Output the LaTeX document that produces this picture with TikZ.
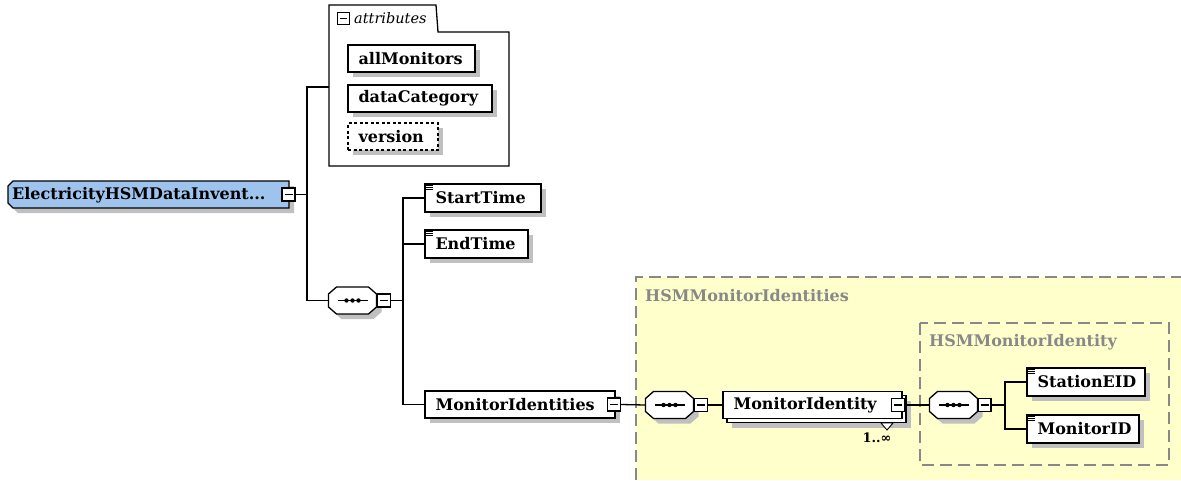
\documentclass[tikz,border=0pt]{standalone}
\usepackage{fontspec}
\setmainfont{DejaVu Serif}
\usetikzlibrary{calc}
\definecolor{rootblue}{RGB}{158,196,238}
\definecolor{shadowgray}{RGB}{192,192,192}
\definecolor{grpyellow}{RGB}{255,255,204}
\definecolor{grpgray}{RGB}{136,136,136}
\tikzset{
  box/.style={draw, fill=white, line width=1.3pt, inner sep=0pt},
  etext/.style={inner sep=0pt, anchor=west, font=\bfseries\fontsize{16}{18}\selectfont},
  grplabel/.style={inner sep=0pt, anchor=west, text=grpgray, font=\bfseries\fontsize{16}{18}\selectfont},
  minus/.style={draw, fill=white, line width=1.1pt, minimum size=13pt, inner sep=0pt,
    path picture={\draw[line width=1.1pt] ([xshift=2.5pt]path picture bounding box.west) -- ([xshift=-2.5pt]path picture bounding box.east);}},
  conn/.style={line width=1.3pt},
  grpborder/.style={draw=grpgray, line width=1.3pt, dash pattern=on 12pt off 6pt},
}
% element box: name, x1, y1, x2, y2
\newcommand\elembox[5]{%
  \fill[shadowgray] (#2+5,#3+5) rectangle (#4+5,#5+5);
  \node[box, minimum width={(#4-#2)*1pt}, minimum height={(#5-#3)*1pt}] (#1) at ({(#2+#4)/2},{(#3+#5)/2}) {};
}
% document icon inside top-left corner of a node
\newcommand\docicon[1]{%
  \foreach \d in {2.5,4.5,6.5} \draw[line width=0.8pt] ([xshift=2pt,yshift=-\d pt]#1.north west) -- ++(7,0);
}
% sequence compositor: name, cx, cy
\newcommand\seqnode[3]{%
  \fill[shadowgray, shift={(#2+5,#3+5)}] (-16,-13.5) -- (16,-13.5) -- (24,-6.5) -- (24,6.5) -- (16,13.5) -- (-16,13.5) -- (-24,6.5) -- (-24,-6.5) -- cycle;
  \node[inner sep=0pt, minimum width=48pt, minimum height=27pt] (#1) at (#2,#3) {};
  \draw[line width=1.3pt, fill=white, shift={(#2,#3)}] (-16,-13.5) -- (16,-13.5) -- (24,-6.5) -- (24,6.5) -- (16,13.5) -- (-16,13.5) -- (-24,6.5) -- (-24,-6.5) -- cycle;
  \draw[line width=1.3pt, shift={(#2,#3)}] (-15,0) -- (15,0);
  \fill[shift={(#2,#3)}] (-6,0) circle (2.2) (0,0) circle (2.2) (6,0) circle (2.2);
}
\begin{document}
\begin{tikzpicture}[x=1pt,y=-1pt]
\useasboundingbox (0,0) rectangle (1181,480);
\fill[white] (0,0) rectangle (1181,480);

% ---- yellow group region
\fill[grpyellow] (636,277) rectangle (1181,480);
\draw[grpborder] (636,480) -- (636,277) -- (1181,277);
\node[grplabel] (g1label) at (645,296) {HSMMonitorIdentities};
\draw[grpborder] (920,323) rectangle (1169,465);
\node[grplabel] (g2label) at (929,342) {HSMMonitorIdentity};

% ---- root element
\fill[shadowgray, shift={(5,5)}] (13,181) -- (289,181) -- (289,208) -- (13,208) -- (8,203) -- (8,186) -- cycle;
\node[inner sep=0pt, minimum width=281pt, minimum height=27pt] (root) at (148.5,194.5) {};
\draw[line width=1.3pt, fill=rootblue] (13,181) -- (289,181) -- (289,208) -- (13,208) -- (8,203) -- (8,186) -- cycle;
\node[etext] (roott) at (12,195) {ElectricityHSMDataInvent...};
\node[minus] (rootm) at (288.5,194.5) {};

% ---- attributes group
\draw[line width=1.3pt] (329,32) -- (329,5) -- (436,5) -- (438,32) -- (509,32) -- (509,166) -- (329,166) -- cycle;
\coordinate (attrin) at (329,87);
\node[minus, minimum size=12pt, line width=0.9pt] (attrm) at (343,18.5) {};
\node[inner sep=0pt, anchor=west, font=\itshape\fontsize{14.5}{16}\selectfont] (attrt) at (354,18) {attributes};
\elembox{am}{348}{45}{475}{72}
\node[etext] (amt) at ([xshift=11pt]am.west) {allMonitors};
\elembox{dc}{348}{85}{492}{112}
\node[etext] (dct) at ([xshift=11pt]dc.west) {dataCategory};
\fill[shadowgray] (353,128) rectangle (443,155);
\node[box, dash pattern=on 3pt off 2.5pt, minimum width=90pt, minimum height=27pt] (ver) at (393,136.5) {};
\node[etext] (vert) at ([xshift=11pt]ver.west) {version};

% ---- first sequence
\seqnode{seqA}{352.5}{300.5}
\node[minus] (seqAm) at (384,300.5) {};
\coordinate (trunkA) at (307,194.5);
\draw[conn] (rootm.east) -- (trunkA);
\draw[conn] (attrin) -| (trunkA) |- (seqA.west);

% ---- children of first sequence
\elembox{st}{425}{184}{541}{212}
\node[etext] (stt) at ([xshift=11pt]st.west) {StartTime};
\docicon{st}
\elembox{et}{425}{230}{528}{258}
\node[etext] (ett) at ([xshift=11pt]et.west) {EndTime};
\docicon{et}
\elembox{mis}{425}{391}{615}{418}
\node[etext] (mist) at ([xshift=11pt]mis.west) {MonitorIdentities};
\node[minus] (mism) at (614,404.5) {};
\coordinate (trunkB) at (403,300.5);
\draw[conn] (seqAm.east) -- (trunkB);
\draw[conn] (st.west) -| (trunkB);
\draw[conn] (et.west) -| (trunkB);
\draw[conn] (mis.west) -| (trunkB);

% ---- second sequence
\seqnode{seqB}{669.5}{405}
\node[minus] (seqBm) at (701,405) {};
\draw[conn] (mism.east) -- (seqB.west);

% ---- MonitorIdentity (repeating)
\fill[shadowgray] (732,401) rectangle (911,428);
\node[box, minimum width=179pt, minimum height=27pt] (mib) at (816.5,409) {};
\node[box, minimum width=179pt, minimum height=27pt] (mi) at (812.5,405) {};
\node[etext] (mit) at ([xshift=11pt]mi.west) {MonitorIdentity};
\node[minus] (mim) at (898,405) {};
\draw[line width=0.9pt, fill=white] (881,423) -- (893,423) -- (887,430) -- cycle;
\node[inner sep=0pt, font=\bfseries\fontsize{13}{15}\selectfont] (mimult) at (877,438) {1..∞};
\draw[conn] (seqBm.east) -- (mi.west);

% ---- third sequence
\seqnode{seqC}{953.5}{405}
\node[minus] (seqCm) at (984.5,405) {};
\draw[conn] (mim.east) -- (seqC.west);

\elembox{se}{1027}{368}{1145}{396}
\node[etext] (set) at ([xshift=11pt]se.west) {StationEID};
\docicon{se}
\elembox{mo}{1027}{415}{1139}{443}
\node[etext] (mot) at ([xshift=11pt]mo.west) {MonitorID};
\docicon{mo}
\coordinate (trunkC) at (1005,405);
\draw[conn] (seqCm.east) -- (trunkC);
\draw[conn] (se.west) -| (trunkC);
\draw[conn] (mo.west) -| (trunkC);
\end{tikzpicture}
\end{document}
